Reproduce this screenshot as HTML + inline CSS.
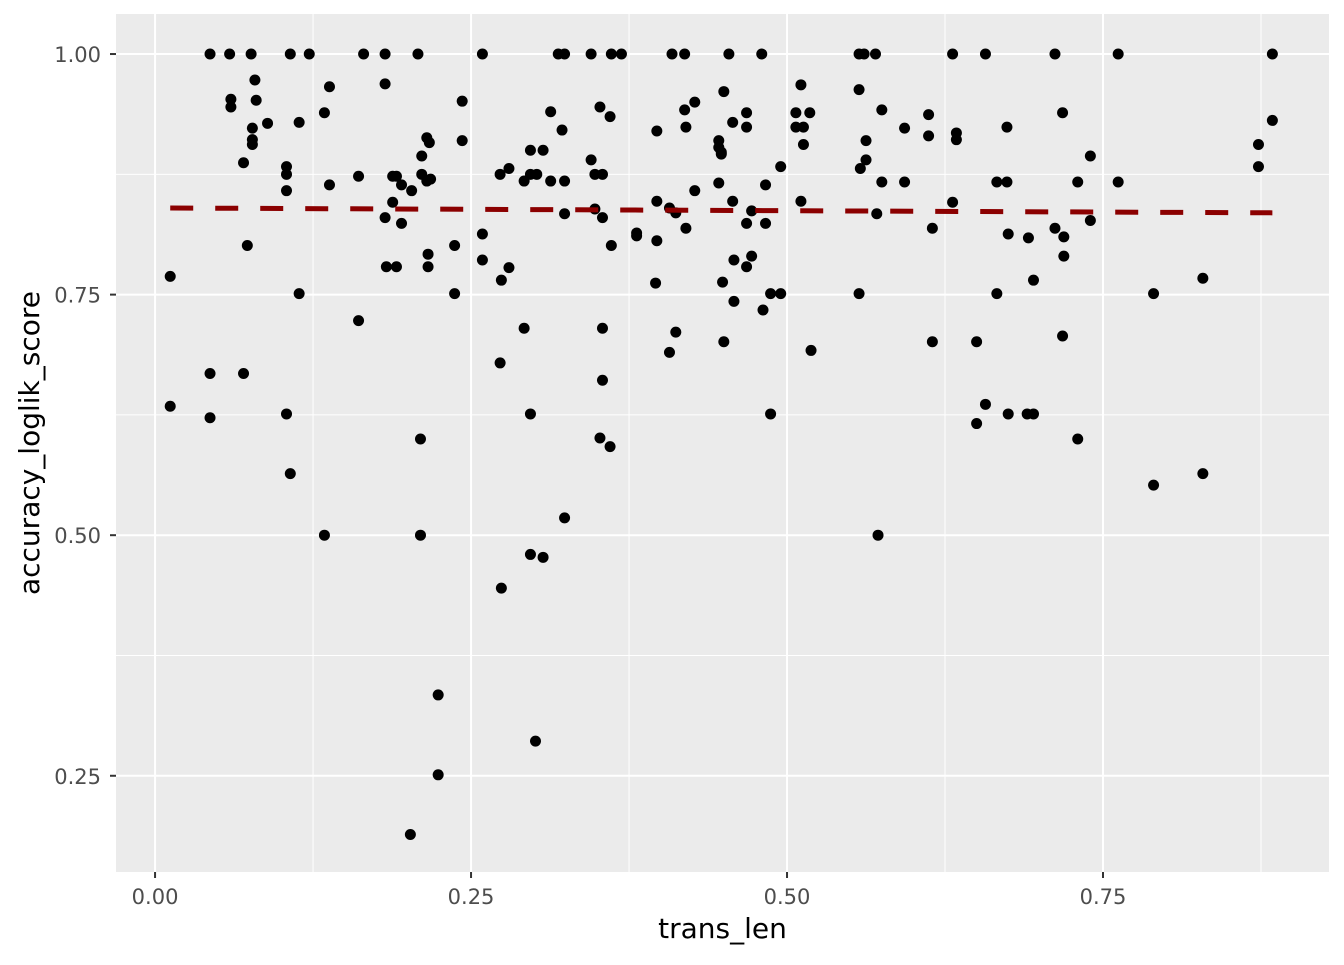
<!DOCTYPE html>
<html><head><meta charset="utf-8"><style>
html,body{margin:0;padding:0;background:#fff;}
svg text{font-family:"DejaVu Sans","Liberation Sans",sans-serif;}
</style></head><body>
<svg id="chart" width="1344" height="960" xmlns="http://www.w3.org/2000/svg"></svg>
<script>
const xVals=[0.012,0.012,0.0435,0.0435,0.0435,0.059,0.060,0.060,0.070,0.073,0.070,0.076,0.079,0.077,0.077,0.077,0.080,0.089,0.107,0.104,0.104,0.104,0.104,0.107,0.114,0.114,0.122,0.134,0.134,0.138,0.138,0.165,0.161,0.161,0.182,0.182,0.182,0.183,0.188,0.188,0.191,0.191,0.195,0.195,0.203,0.208,0.211,0.211,0.210,0.210,0.215,0.217,0.215,0.216,0.216,0.218,0.202,0.224,0.224,0.237,0.237,0.243,0.243,0.259,0.259,0.259,0.273,0.274,0.273,0.274,0.280,0.280,0.292,0.292,0.297,0.297,0.297,0.297,0.301,0.302,0.307,0.307,0.313,0.313,0.319,0.324,0.322,0.324,0.324,0.324,0.345,0.345,0.348,0.348,0.352,0.354,0.354,0.354,0.354,0.352,0.360,0.361,0.361,0.360,0.369,0.381,0.381,0.397,0.397,0.397,0.396,0.407,0.409,0.412,0.407,0.412,0.419,0.419,0.420,0.420,0.427,0.427,0.446,0.446,0.448,0.448,0.446,0.449,0.450,0.450,0.454,0.457,0.457,0.458,0.458,0.468,0.468,0.468,0.468,0.472,0.472,0.480,0.483,0.483,0.481,0.487,0.487,0.495,0.495,0.511,0.507,0.507,0.513,0.513,0.518,0.511,0.519,0.557,0.561,0.557,0.5625,0.5625,0.558,0.570,0.575,0.575,0.571,0.557,0.572,0.593,0.593,0.612,0.612,0.615,0.615,0.631,0.634,0.634,0.631,0.657,0.666,0.674,0.674,0.666,0.675,0.650,0.650,0.657,0.675,0.691,0.695,0.690,0.695,0.712,0.718,0.712,0.719,0.719,0.718,0.730,0.740,0.740,0.730,0.762,0.762,0.790,0.790,0.829,0.829,0.873,0.873,0.884,0.884];
const yVals=[0.769,0.634,1,0.668,0.622,1,0.953,0.945,0.887,0.801,0.668,1,0.973,0.923,0.911,0.906,0.952,0.928,1,0.883,0.875,0.858,0.626,0.564,0.929,0.751,1,0.500,0.939,0.966,0.864,1,0.873,0.723,1,0.969,0.830,0.779,0.873,0.846,0.873,0.779,0.864,0.824,0.858,1,0.894,0.875,0.600,0.500,0.913,0.908,0.868,0.792,0.779,0.870,0.189,0.334,0.251,0.801,0.751,0.951,0.910,1,0.813,0.786,0.875,0.765,0.679,0.445,0.881,0.778,0.868,0.715,0.900,0.875,0.626,0.480,0.286,0.875,0.900,0.477,0.940,0.868,1,1,0.921,0.868,0.834,0.518,1,0.890,0.875,0.839,0.945,0.875,0.830,0.715,0.661,0.601,0.935,1,0.801,0.592,1,0.814,0.811,0.920,0.847,0.806,0.762,0.840,1,0.835,0.690,0.711,1,0.942,0.924,0.819,0.950,0.858,0.910,0.903,0.898,0.896,0.866,0.763,0.701,0.961,1,0.929,0.847,0.786,0.743,0.939,0.924,0.824,0.779,0.837,0.790,1,0.864,0.824,0.734,0.751,0.626,0.751,0.883,0.968,0.939,0.924,0.924,0.906,0.939,0.847,0.692,1,1,0.963,0.910,0.890,0.881,1,0.942,0.867,0.834,0.751,0.500,0.923,0.867,0.937,0.915,0.819,0.701,1,0.918,0.911,0.846,1,0.867,0.924,0.867,0.751,0.813,0.701,0.616,0.636,0.626,0.809,0.765,0.626,0.626,1,0.939,0.819,0.810,0.790,0.707,0.867,0.894,0.827,0.600,1,0.867,0.751,0.552,0.767,0.564,0.906,0.883,1,0.931];
const fitX=[0.012,0.884];
const fitY=[0.840,0.835];
const xTicks=[0,0.25,0.5,0.75];
const xTickLabels=["0.00","0.25","0.50","0.75"];
const yTicks=[0.25,0.5,0.75,1.0];
const yTickLabels=["0.25","0.50","0.75","1.00"];
const xMinor=[0.125,0.375,0.625,0.875];
const yMinor=[0.375,0.625,0.875];

const L=116,R=1329,T=14,B=872;
const xMin=-0.0309,xMax=0.9288,yMin=0.150,yMax=1.0416;
const sx=v=>L+(v-xMin)/(xMax-xMin)*(R-L);
const sy=v=>B-(v-yMin)/(yMax-yMin)*(B-T);
const NS="http://www.w3.org/2000/svg";
const svg=document.getElementById('chart');
function mk(tag,attrs,parent){const e=document.createElementNS(NS,tag);for(const k in attrs)e.setAttribute(k,attrs[k]);(parent||svg).appendChild(e);return e;}

const panel=mk('rect',{x:L,y:T,width:R-L,height:B-T,fill:'#ebebeb'});



xMinor.forEach(v=>{const l=mk('line',{x1:sx(v),x2:sx(v),y1:T,y2:B,stroke:'#fff','stroke-width':1});

});
yMinor.forEach(v=>{const l=mk('line',{x1:L,x2:R,y1:sy(v),y2:sy(v),stroke:'#fff','stroke-width':1});

});
xTicks.forEach((v,i)=>{const l=mk('line',{x1:sx(v),x2:sx(v),y1:T,y2:B,stroke:'#fff','stroke-width':2});


const tk=mk('line',{x1:sx(v),x2:sx(v),y1:B,y2:B+6,stroke:'#333','stroke-width':2});


const t=mk('text',{x:sx(v),y:B+32,'text-anchor':'middle','font-size':21,fill:'#4d4d4d'});t.textContent=xTickLabels[i];

});
yTicks.forEach((v,i)=>{const l=mk('line',{x1:L,x2:R,y1:sy(v),y2:sy(v),stroke:'#fff','stroke-width':2});


const tk=mk('line',{x1:L-6,x2:L,y1:sy(v),y2:sy(v),stroke:'#333','stroke-width':2});


const t=mk('text',{x:L-15,y:sy(v)+8,'text-anchor':'end','font-size':21,fill:'#4d4d4d'});t.textContent=yTickLabels[i];

});

const g=mk('g',{});


xVals.forEach((v,i)=>{const c=mk('circle',{cx:sx(v),cy:sy(yVals[i]),r:5.5,fill:'#000'},g);

});

const fl=mk('line',{x1:sx(fitX[0]),y1:sy(fitY[0]),x2:sx(fitX[1]),y2:sy(fitY[1]),stroke:'#8b0000','stroke-width':5,'stroke-dasharray':'23 22'});



const xt=mk('text',{x:(L+R)/2,y:938,'text-anchor':'middle','font-size':28,fill:'#000'});xt.textContent='trans_len';


const yt=mk('text',{x:0,y:0,'text-anchor':'middle','font-size':28,fill:'#000',transform:`translate(39,${(T+B)/2}) rotate(-90)`});yt.textContent='accuracy_loglik_score';


</script>
</body></html>
